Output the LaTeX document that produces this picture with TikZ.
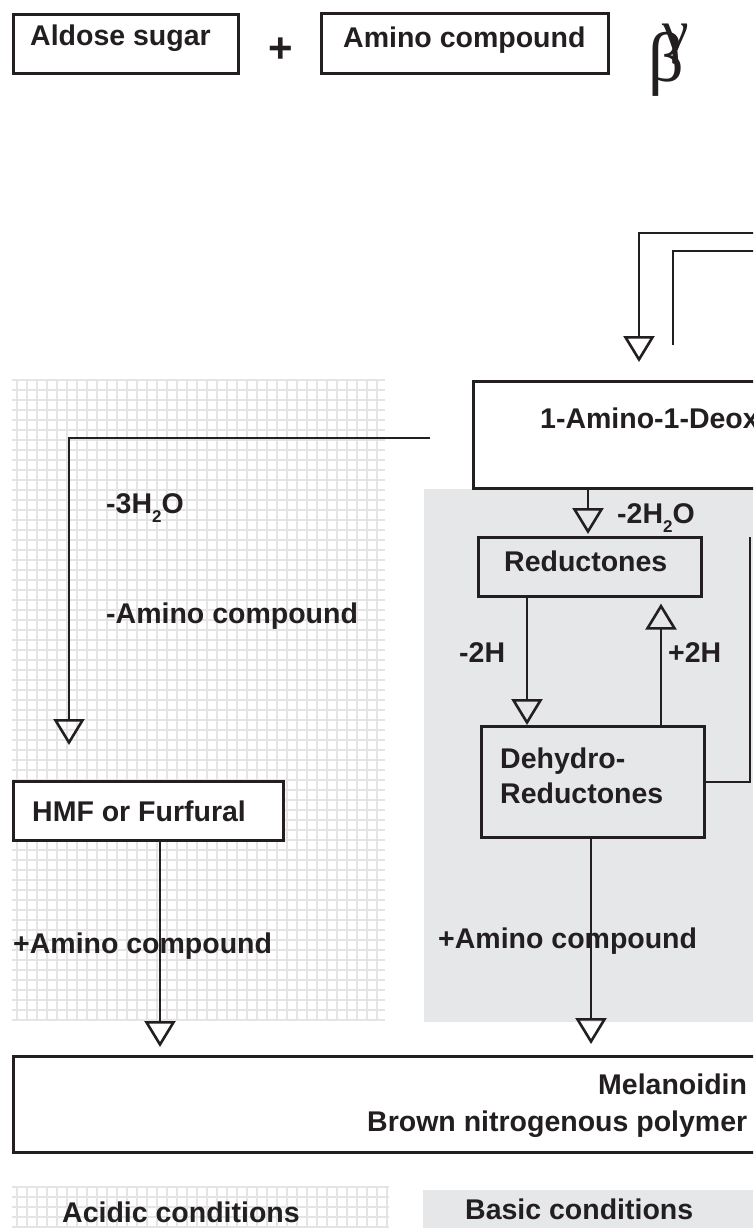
\documentclass[tikz,border=0pt]{standalone}
\usepackage{fontspec}
\setmainfont{Liberation Sans}
\newfontfamily\greekfont{Liberation Serif}
\usetikzlibrary{arrows.meta}
\definecolor{basicgray}{RGB}{230,231,233}
\definecolor{gridgray}{RGB}{228,228,228}
\definecolor{ink}{RGB}{35,31,32}
\newcommand{\subtwo}{\raisebox{-0.33em}{\fontsize{17}{17}\selectfont 2}}
\begin{document}
\begin{tikzpicture}[x=1pt,y=-1pt,
  box/.style={draw=ink, line width=2.6pt, inner sep=0pt, anchor=north west, fill=white},
  graybox/.style={draw=ink, line width=2.6pt, inner sep=0pt, anchor=north west, fill=basicgray},
  txt/.style={anchor=base west, inner sep=0pt, text=ink, font=\fontsize{28.5}{34}\selectfont\bfseries},
  conn/.style={draw=ink, line width=2.6pt},
  flow/.style={conn, -{Triangle[open, length=26pt, width=31pt]}},
  gridline/.style={draw=gridgray, line width=1.5pt},
]
\useasboundingbox (0,0) rectangle (753,1228);
\clip (0,0) rectangle (753,1228);
\fill[white] (0,0) rectangle (753,1228);

% acidic (grid) regions
\fill[white] (12,380) rectangle (385,1020);
\foreach \x in {17,27,...,377} \draw[gridline] (\x,380) -- (\x,1020);
\foreach \y in {380,390,...,1020} \draw[gridline] (12,\y) -- (385,\y);
\foreach \x in {17,27,...,387} \draw[gridline] (\x,1187) -- (\x,1228);
\foreach \y in {1187,1197,...,1227} \draw[gridline] (12,\y) -- (389,\y);

% basic (gray) regions
\fill[basicgray] (424,489) rectangle (753,1022);
\fill[basicgray] (423,1190) rectangle (753,1228);

% x guides
\coordinate (gA) at (639,0);
\coordinate (gL) at (69,0);
\coordinate (g1) at (588,0);
\coordinate (g2) at (527,0);
\coordinate (g3) at (661,0);
\coordinate (g4) at (591,0);
\coordinate (g5) at (160,0);

% top row
\node[box, minimum width=225pt, minimum height=59pt] (aldose) at (12,13) {};
\node[txt] at (30,46) {Aldose sugar};
\node[txt, anchor=center, font=\fontsize{42}{42}\selectfont\bfseries] (plus) at (281,50) {+};
\node[box, minimum width=287pt, minimum height=60pt] (amino) at (320,12) {};
\node[txt] at (343,48) {Amino compound};
\node[anchor=base west, inner sep=0pt, text=ink, font=\greekfont\fontsize{70}{70}\selectfont] (beta) at (648,82)
  {β\llap{\raisebox{30pt}{\fontsize{60}{60}\selectfont γ\kern-5pt}}};

% boxes
\node[box, minimum width=420pt, minimum height=107pt] (amadori) at (472,380) {};
\node[txt] at (540,428) {1-Amino-1-Deox};
\node[graybox, minimum width=223pt, minimum height=59pt] (reduct) at (477,536) {};
\node[txt] at (504,571) {Reductones};
\node[graybox, minimum width=223pt, minimum height=111pt] (dehydro) at (480,725) {};
\node[txt] at (500,768) {Dehydro-};
\node[txt] at (500,803) {Reductones};
\node[box, minimum width=270pt, minimum height=59pt] (hmf) at (12,780) {};
\node[txt] at (32,821) {HMF or Furfural};
\node[box, minimum width=900pt, minimum height=96pt] (melan) at (12,1055) {};
\node[txt] at (598,1094) {Melanoidin};
\node[txt] at (367,1131) {Brown nitrogenous polymer};

% free ends
\coordinate (topA) at (780,233);
\coordinate (topB) at (780,251);
\coordinate (topBend) at (673,345);
\coordinate (lstart) at (430,438);
\coordinate (rend) at (750,537);

% connectors
\draw[flow, shorten >=18pt] (topA) -| (amadori.north -| gA);
\draw[conn] (topB) -| (topBend);
\draw[flow, shorten >=35pt] (lstart) -| (hmf.north -| gL);
\draw[flow, shorten >=2pt] (amadori.south -| g1) -- (reduct.north -| g1);
\draw[flow] (reduct.south -| g2) -- (dehydro.north -| g2);
\draw[flow, shorten >=6pt] (dehydro.north -| g3) -- (reduct.south -| g3);
\draw[conn] (dehydro.east |- 0,782) -| (rend);
\draw[flow, shorten >=8pt] (hmf.south -| g5) -- (melan.north -| g5);
\draw[flow, shorten >=11pt] (dehydro.south -| g4) -- (melan.north -| g4);

% labels
\node[txt] at (106,513) {-3H\subtwo O};
\node[txt] at (106,623) {-Amino compound};
\node[txt] at (617,523) {-2H\subtwo O};
\node[txt] at (459,662) {-2H};
\node[txt] at (668,662) {+2H};
\node[txt] at (13,953) {+Amino compound};
\node[txt] at (438,948) {+Amino compound};
\node[txt] at (62,1222) {Acidic conditions};
\node[txt] at (465,1219) {Basic conditions};
\end{tikzpicture}
\end{document}
